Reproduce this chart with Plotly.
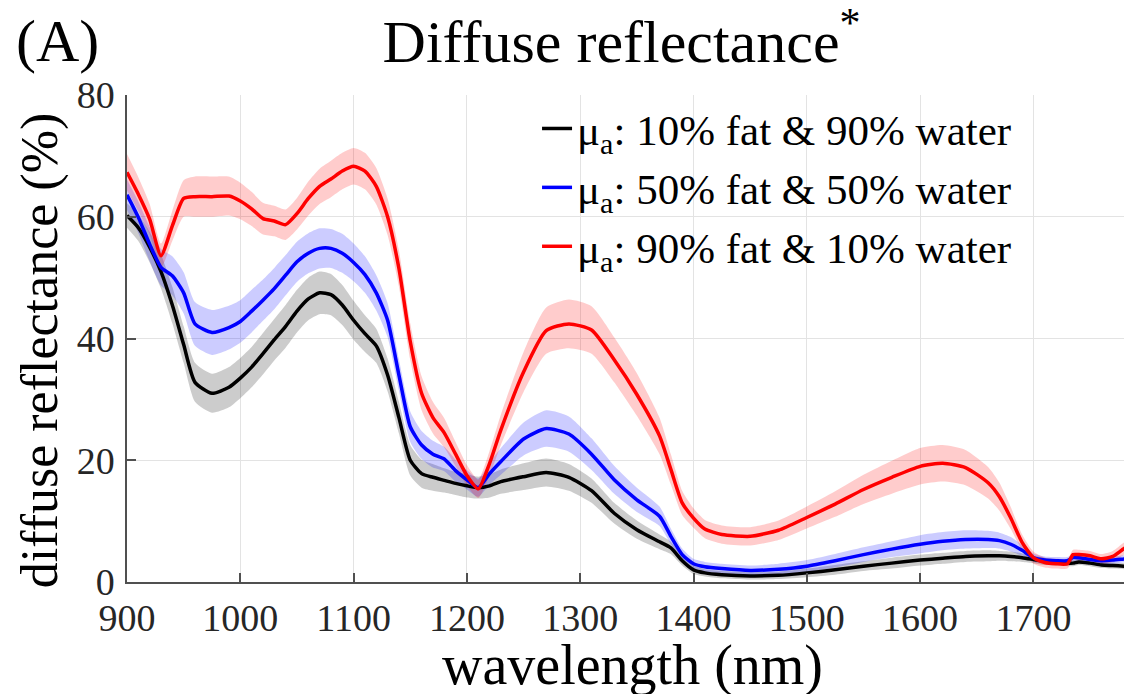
import plotly.graph_objects as go

wavelength = [900, 910, 920, 930, 940, 950, 960, 975, 990, 1000, 1010, 1020, 1030, 1040, 1050,
              1060, 1070, 1080, 1090, 1100, 1110, 1120, 1130, 1140, 1150, 1160, 1170, 1180, 1190,
              1200, 1210, 1220, 1230, 1250, 1270, 1290, 1310, 1330, 1350, 1370, 1380, 1390, 1400,
              1410, 1425, 1450, 1475, 1500, 1525, 1550, 1575, 1600, 1620, 1640, 1660, 1670, 1680,
              1690, 1700, 1710, 1720, 1730, 1735, 1740, 1750, 1760, 1770, 1780, 1790]

fat10_mean = [60.2, 58.2, 55.0, 51.0, 45.5, 39.0, 32.8, 31.0, 32.0, 33.5, 35.3, 37.5, 39.8, 42.0, 44.5,
              46.5, 47.5, 47.2, 45.5, 43.0, 40.8, 38.8, 34.0, 27.0, 20.0, 17.8, 17.2, 16.7, 16.2,
              15.8, 15.5, 15.8, 16.5, 17.3, 18.0, 17.2, 15.0, 11.3, 8.6, 6.6, 5.6, 3.5, 2.0,
              1.5, 1.2, 1.0, 1.1, 1.5, 2.0, 2.6, 3.1, 3.6, 3.9, 4.2, 4.3, 4.3, 4.2,
              4.0, 3.7, 3.4, 3.2, 3.1, 3.1, 3.3, 3.1, 2.8, 2.7, 2.6, 2.5]
fat10_sd = [2.0, 2.2, 2.5, 2.8, 3.0, 3.0, 3.2, 3.2, 3.3, 3.3, 3.3, 3.4, 3.4, 3.5, 3.5,
            3.5, 3.5, 3.4, 3.3, 3.2, 3.0, 2.8, 2.7, 2.6, 2.5, 2.3, 2.2, 2.0, 1.9,
            1.9, 1.8, 1.9, 2.0, 2.2, 2.3, 2.2, 2.0, 1.7, 1.5, 1.2, 1.0, 0.8, 0.7,
            0.6, 0.6, 0.6, 0.6, 0.7, 0.8, 0.8, 0.9, 0.9, 0.9, 0.9, 0.9, 0.8, 0.8,
            0.7, 0.6, 0.6, 0.5, 0.5, 0.5, 0.5, 0.5, 0.5, 0.5, 0.5, 0.5]

fat50_mean = [63.6, 59.9, 55.5, 51.7, 50.3, 47.5, 42.4, 41.0, 41.8, 42.8, 44.5, 46.3, 48.2, 50.4, 52.6,
              54.0, 54.8, 54.8, 54.0, 52.5, 50.5, 47.5, 43.0, 34.0, 25.5, 22.5, 21.0, 20.2, 18.3,
              16.8, 15.5, 17.8, 19.8, 23.5, 25.2, 24.3, 21.0, 16.8, 13.5, 10.8, 7.5, 4.5, 3.0,
              2.5, 2.2, 1.9, 2.1, 2.6, 3.5, 4.5, 5.4, 6.2, 6.7, 7.0, 7.0, 6.8, 6.2,
              5.2, 4.0, 3.6, 3.5, 3.5, 4.0, 4.0, 3.7, 3.5, 3.6, 3.8, 4.0]
fat50_sd = [2.5, 2.6, 2.8, 3.0, 3.2, 3.4, 3.6, 3.7, 3.6, 3.5, 3.5, 3.4, 3.4, 3.3, 3.3,
            3.3, 3.3, 3.2, 3.2, 3.1, 3.0, 2.9, 2.8, 2.6, 2.5, 2.3, 2.2, 2.0, 1.8,
            1.6, 1.5, 1.8, 2.2, 2.7, 3.0, 2.9, 2.6, 2.3, 2.0, 1.6, 1.3, 1.0, 0.8,
            0.8, 0.8, 0.8, 0.9, 1.0, 1.1, 1.2, 1.3, 1.5, 1.5, 1.5, 1.4, 1.3, 1.2,
            0.9, 0.7, 0.6, 0.6, 0.6, 0.6, 0.6, 0.6, 0.6, 0.6, 0.6, 0.6]

fat90_mean = [67.3, 63.7, 59.6, 53.6, 58.5, 63.0, 63.3, 63.3, 63.4, 62.6, 61.3, 59.7, 59.3, 58.7, 60.5,
              63.0, 65.0, 66.2, 67.5, 68.3, 67.5, 65.0, 60.0, 51.5, 39.5, 31.0, 27.0, 24.5, 21.0,
              17.5, 15.3, 19.5, 25.0, 34.5, 41.3, 42.4, 41.4, 36.5, 30.8, 24.0, 18.5, 13.0, 10.5,
              8.7, 7.8, 7.5, 8.5, 10.6, 12.8, 15.2, 17.2, 19.0, 19.5, 18.8, 16.3, 14.0, 10.5,
              6.5, 4.0, 3.2, 3.0, 3.0, 4.5, 4.5, 4.3, 3.8, 4.2, 5.5, 6.5]
fat90_sd = [3.0, 2.8, 2.5, 2.0, 2.5, 3.0, 3.3, 3.3, 3.2, 3.0, 2.8, 2.6, 2.5, 2.5, 2.6,
            2.8, 2.9, 3.0, 3.0, 3.0, 3.0, 3.0, 3.0, 3.0, 3.0, 2.8, 2.6, 2.4, 2.0,
            1.7, 1.5, 2.0, 2.5, 3.3, 3.8, 4.0, 3.9, 3.7, 3.5, 3.0, 2.5, 2.0, 1.6,
            1.5, 1.5, 1.5, 1.6, 1.8, 2.1, 2.4, 2.7, 3.0, 3.0, 2.9, 2.6, 2.3, 1.8,
            1.3, 1.0, 0.8, 0.8, 0.8, 0.8, 0.8, 0.8, 0.8, 0.9, 1.0, 1.0]

series_names = ["μ<sub>a</sub>: 10% fat & 90% water",
                "μ<sub>a</sub>: 50% fat & 50% water",
                "μ<sub>a</sub>: 90% fat & 10% water"]
line_colors = ["#000000", "#0000FF", "#FF0000"]
band_colors = ["rgba(0,0,0,0.2)", "rgba(0,0,255,0.2)", "rgba(255,0,0,0.2)"]

means = [fat10_mean, fat50_mean, fat90_mean]
sds = [fat10_sd, fat50_sd, fat90_sd]

FONT = "Liberation Serif"

fig = go.Figure()

for m, s, bc in zip(means, sds, band_colors):
    upper = [a + b for a, b in zip(m, s)]
    lower = [a - b for a, b in zip(m, s)]
    fig.add_trace(go.Scatter(
        x=wavelength + wavelength[::-1],
        y=upper + lower[::-1],
        fill="toself", fillcolor=bc, line=dict(width=0, shape="spline", smoothing=0.6),
        mode="lines", showlegend=False, hoverinfo="skip"))

for m, name, lc in zip(means, series_names, line_colors):
    fig.add_trace(go.Scatter(
        x=wavelength, y=m, mode="lines", name=name,
        line=dict(color=lc, width=3.5, shape="spline", smoothing=0.6)))

fig.update_layout(
    width=1132, height=694,
    margin=dict(l=119, r=8, t=87, b=120, autoexpand=False),
    paper_bgcolor="white", plot_bgcolor="white",
    font=dict(family=FONT, color="#000000"),
    title=dict(text="Diffuse reflectance<sup>*</sup>", x=0.542, xanchor="center",
               y=0.982, yanchor="top", font=dict(size=60, family=FONT)),
    legend=dict(x=0.408, y=1.002, xanchor="left", yanchor="top",
                bgcolor="rgba(0,0,0,0)", font=dict(size=43, family=FONT),
                itemwidth=30, tracegroupgap=0),
    annotations=[
        dict(text="(A)", xref="paper", yref="paper", x=-0.1124, y=1.1836,
             xanchor="left", yanchor="top", showarrow=False,
             font=dict(size=60, family=FONT)),
        dict(text="wavelength (nm)", xref="paper", yref="paper", x=0.5025, y=-0.171,
             xanchor="center", yanchor="middle", showarrow=False,
             font=dict(size=56, family=FONT)),
        dict(text="diffuse reflectance (%)", xref="paper", yref="paper", x=-0.0866, y=0.476,
             xanchor="center", yanchor="middle", showarrow=False, textangle=-90,
             font=dict(size=52, family=FONT)),
    ],
)

fig.update_xaxes(
    range=[900, 1787], dtick=100, tick0=900, automargin=False,
    showgrid=True, gridcolor="#e3e3e3", gridwidth=1,
    showline=True, linecolor="#505050", linewidth=1.5,
    ticks="inside", ticklen=9, tickcolor="#505050", tickwidth=1.5,
    ticklabelstandoff=2,
    tickfont=dict(size=38, family=FONT, color="#262626"),
    zeroline=False)

fig.update_yaxes(
    range=[0, 80], dtick=20, automargin=False,
    showgrid=True, gridcolor="#e3e3e3", gridwidth=1,
    showline=True, linecolor="#505050", linewidth=1.5,
    ticks="inside", ticklen=9, tickcolor="#505050", tickwidth=1.5,
    ticklabelstandoff=3,
    tickfont=dict(size=38, family=FONT, color="#262626"),
    zeroline=False)

fig.write_html("out.html")
